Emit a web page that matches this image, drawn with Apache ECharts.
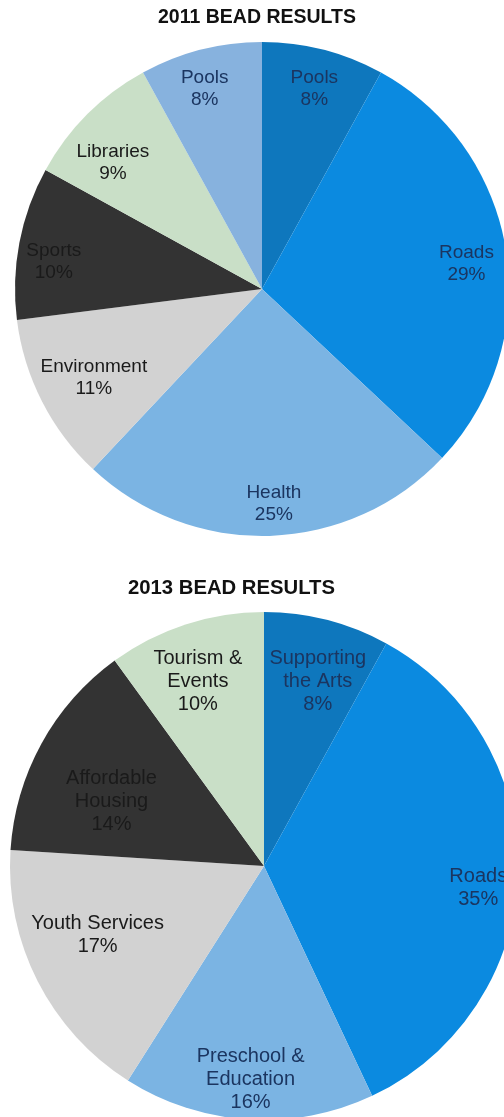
<!DOCTYPE html>
<html>
<head>
<meta charset="utf-8">
<script src="https://cdn.jsdelivr.net/npm/echarts@6/dist/echarts.min.js"></script>
<style>
html,body{margin:0;padding:0;background:#fff;}
#chart{width:504px;height:1117px;}
</style>
</head>
<body>
<div id="chart"></div>
<script>
const title2011 = '2011 BEAD RESULTS';
const cats2011 = ['Pools', 'Roads', 'Health', 'Environment', 'Sports', 'Libraries', 'Pools'];
const vals2011 = [8, 29, 25, 11, 10, 9, 8];

const title2013 = '2013 BEAD RESULTS';
const cats2013 = ['Supporting\nthe Arts', 'Roads', 'Preschool &\nEducation', 'Youth Services', 'Affordable\nHousing', 'Tourism &\nEvents'];
const vals2013 = [8, 35, 16, 17, 14, 10];

// styles
const colors2011 = ['#0e77bd', '#0b8ae0', '#7bb4e3', '#d2d2d2', '#333333', '#c9dfc7', '#87b2de'];
const labelColors2011 = ['#1b3560', '#1b3560', '#1b3560', '#1a1a1a', '#1a1a1a', '#1a1a1a', '#1b3560'];
const labelRadius2011 = [0.84, 0.83, 0.87, 0.77, 0.85, 0.79, 0.84];
const labelNudge2011 = [[0, 4], [-1, 7], [5, -3], [4, 1], [1, 13], [-9, 14], [-5, 4]];
const colors2013 = ['#0e77bd', '#0b8ae0', '#7bb4e3', '#d2d2d2', '#333333', '#c9dfc7'];
const labelColors2013 = ['#1b3560', '#1b3560', '#1b3560', '#1a1a1a', '#1a1a1a', '#1a1a1a'];
const labelRadius2013 = [0.76, 0.84, 0.83, 0.71, 0.66, 0.78];
const labelNudge2013 = [[5, 5], [-2, 15], [0, 0], [-3, -14], [-3, 18], [-4, 7]];

const FONT = '"Liberation Sans", Arial, sans-serif';

function sliceSeries(cats, vals, colors, center, r) {
  return {
    type: 'pie', center: center, radius: [0, r], startAngle: 90, clockwise: true,
    silent: true, animation: false, label: {show: false}, labelLine: {show: false},
    data: cats.map((c, i) => ({name: c, value: vals[i], itemStyle: {color: colors[i]}}))
  };
}
// one transparent ring per slice, so each label sits at its own radius
function labelSeriesList(cats, vals, lblColors, radii, nudges, center, r, fs, lh) {
  return cats.map((_, k) => {
    const r0 = (2 * radii[k] - 1) * r;
    return {
      type: 'pie', center: center, radius: [r0, r], startAngle: 90, clockwise: true,
      silent: true, animation: false, z: 5,
      itemStyle: {color: 'rgba(0,0,0,0)'},
      labelLine: {show: false},
      label: {show: false, position: 'inside', formatter: '{b}\n{c}%', fontFamily: FONT,
              fontSize: fs, lineHeight: lh, align: 'center'},
      data: cats.map((c, i) => ({name: c, value: vals[i],
        label: {show: i === k, color: lblColors[i], offset: nudges[i]}}))
    };
  });
}

const chart = echarts.init(document.getElementById('chart'), null, {renderer: 'canvas'});
chart.setOption({
  backgroundColor: '#ffffff',
  title: [
    {text: title2011, left: 158, top: 8, padding: 0,
     textStyle: {fontFamily: FONT, fontWeight: 'bold', fontSize: 19.5, color: '#111'}},
    {text: title2013, left: 128, top: 578, padding: 0,
     textStyle: {fontFamily: FONT, fontWeight: 'bold', fontSize: 20.3, color: '#111'}}
  ],
  series: [].concat(
    [sliceSeries(cats2011, vals2011, colors2011, [262, 289], 247)],
    labelSeriesList(cats2011, vals2011, labelColors2011, labelRadius2011, labelNudge2011, [262, 289], 247, 19, 22),
    [sliceSeries(cats2013, vals2013, colors2013, [264, 866], 254)],
    labelSeriesList(cats2013, vals2013, labelColors2013, labelRadius2013, labelNudge2013, [264, 866], 254, 20, 23)
  )
});
</script>
</body>
</html>
